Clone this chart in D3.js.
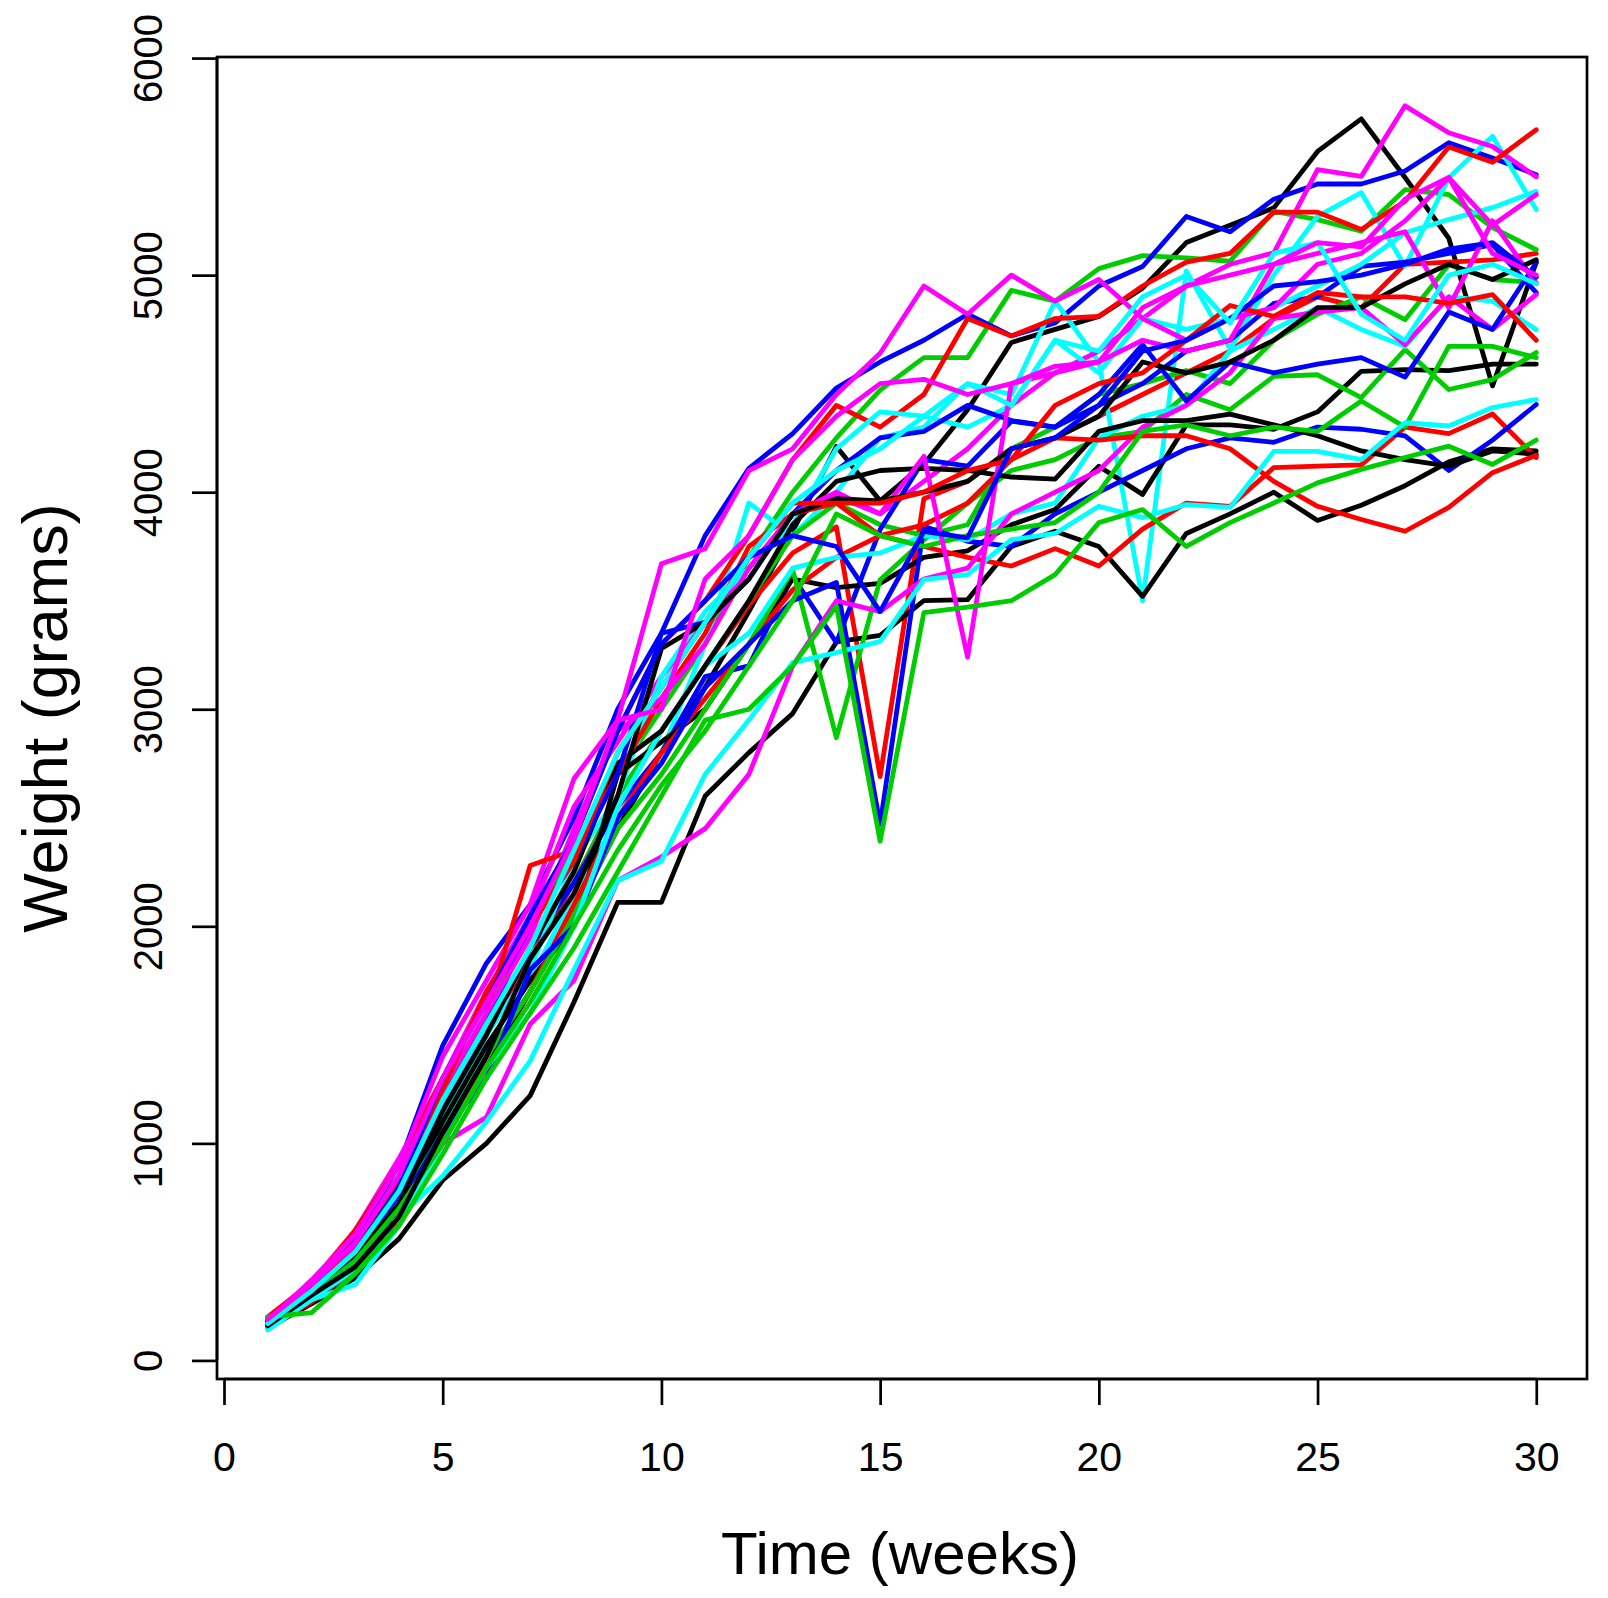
<!DOCTYPE html>
<html>
<head>
<meta charset="utf-8">
<script src="https://cdn.jsdelivr.net/npm/d3@7"></script>
<style>
  body { margin: 0; background: #fff; }
  svg { display: block; font-family: "Liberation Sans", Arial, sans-serif; }
</style>
</head>
<body>
<svg id="chart" width="1608" height="1598"></svg>
<script>
// weeks 1..30
const weeks = d3.range(1, 31)

// weight series (grams), plotted in matplot order: black, red, green, blue, cyan, magenta
const K1 = [160,280,420,640,1000,1350,1700,2050,2450,2800,3100,3450,3820,4210,3960,4130,4380,4690,4750,4810,4940,5150,5230,5310,5570,5720,5450,5170,4490,5060]
const R1 = [170,300,470,700,1100,1500,1850,2200,2600,2900,3200,3480,3720,3840,2690,3970,4050,4200,4250,4350,4450,4550,4650,4800,4900,4850,5050,5060,5070,5100]
const G1 = [200,350,560,850,1250,1600,2000,2350,2700,3000,3300,3700,4000,4250,4470,4620,4620,4930,4880,5030,5090,5080,5064,5294,5256,5202,5394,5371,5219,5117]
const B1 = [190,360,560,900,1450,1830,2100,2500,3000,3350,3800,4110,4270,4480,4600,4700,4820,4720,4780,4950,5040,5270,5200,5350,5420,5420,5480,5610,5540,5463]
const C1 = [150,280,400,640,1050,1450,1750,2150,2500,2800,3300,3950,3800,4000,4250,4300,4500,4450,4880,4600,3500,5020,4660,5000,5271,5380,5041,5449,5640,5302]
const M1 = [170,340,600,930,1300,1700,2050,2550,2850,3150,3400,3650,3900,3980,3900,4050,4200,4400,4550,4650,4800,4950,5050,5103,5486,5455,5780,5656,5593,5453]

const K2 = [150,260,380,560,830,1000,1220,1650,2110,2110,2600,2800,2980,3310,3340,3500,3505,3750,3820,3750,3520,3810,3900,4000,3870,3940,4030,4140,4200,4190]
const R2 = [200,360,600,900,1300,1650,2000,2400,2900,3300,3500,3800,4150,4400,4300,4450,4800,4720,4800,4810,4950,5060,5100,5290,5290,5210,5340,5590,5520,5670]
const G2 = [190,330,520,780,1150,1500,1900,2200,2600,2900,3200,3500,3800,3950,3850,3800,3850,4200,4300,4450,4500,4560,4500,4700,4820,4900,4795,5048,4980,4966]
const B2 = [170,310,480,760,1150,1500,1900,2200,2550,2800,3150,3200,3613,3307,3828,4150,4120,4327,4300,4400,4500,4650,4700,4870,4900,5040,5060,5100,5140,4919]
const C2 = [160,300,460,720,1100,1500,1800,2300,2600,3150,3450,3650,3850,4200,4370,4350,4300,4400,4700,4550,4800,4750,4800,4850,4950,5050,5195,5256,5311,5386]
const M2 = [180,370,580,900,1400,1750,2100,2680,2950,3670,3740,4100,4200,4450,4640,4950,4820,5000,4880,4980,4800,4700,4800,4850,5050,5100,5250,5449,5230,5371]

const K3 = [170,300,450,700,1100,1450,1750,2000,2700,2850,3000,3300,3600,3560,3580,3700,3730,3850,3920,4120,3990,4310,4310,4290,4370,4557,4565,4560,4590,4590]
const R3 = [150,270,420,650,1000,1400,1700,2100,2500,2800,3050,3300,3550,3700,3800,3750,3700,3660,3740,3660,3830,3950,3935,4113,4120,4126,4300,4270,4360,4160]
const G3 = [180,300,480,720,1050,1400,1700,2050,2450,2700,3000,3300,3643,2869,3597,3780,3950,4100,4150,4250,4280,4450,4380,4534,4541,4436,4657,4473,4519,4643]
const B3 = [160,290,450,700,1050,1300,1800,2000,2500,2750,3100,3300,3500,3584,2469,3843,3774,3750,3900,4000,4100,4200,4250,4230,4300,4290,4260,4100,4240,4404]
const C3 = [140,280,350,620,1000,1350,1600,2000,2550,2900,3200,3350,3650,3700,3720,3800,3780,3900,3950,4250,4350,4400,4650,4750,4850,4750,4672,4900,4880,4749]
const M3 = [170,320,480,700,1000,1120,1550,1750,2210,2320,2450,2700,3200,3500,3450,3600,3650,3900,4000,4100,4300,4400,4550,4800,4830,4850,4680,4900,4750,4910]

const K4 = [180,320,480,720,1150,1500,1900,2250,2750,2900,3200,3500,3850,4050,4100,4110,4100,4070,4060,4280,4330,4330,4360,4310,4260,4190,4150,4120,4190,4175]
const R4 = [180,330,520,800,1200,1600,2280,2350,2700,3050,3350,3750,3900,3950,3800,3850,3950,4150,4250,4240,4260,4260,4200,4050,3935,3874,3820,3930,4090,4170]
const G4 = [170,300,460,700,1000,1350,1650,2000,2350,2650,2900,3200,3500,3900,3800,3750,3800,3830,3860,4000,4280,4310,4260,4300,4280,4420,4300,4672,4672,4620]
const B4 = [180,330,520,820,1200,1550,2000,2300,2700,3350,3400,3600,3900,4100,4250,4280,4400,4330,4300,4450,4680,4420,4600,4550,4590,4620,4530,4830,4750,5057]
const C4 = [150,280,420,660,850,1100,1380,1800,2210,2300,2700,2950,3215,3261,3313,3597,3620,3781,3810,3935,3883,3943,3930,4188,4188,4150,4320,4305,4390,4427]
const M4 = [160,330,520,820,1250,1600,1950,2450,2900,3050,3300,3650,3900,4000,3900,4165,3240,4500,4550,4600,4700,4650,4700,5050,5100,5150,5200,4850,5250,4960]

const K5 = [160,300,430,660,1050,1400,1850,2150,2600,3280,3400,3600,3900,3970,3960,4000,4050,4200,4250,4350,4600,4550,4600,4700,4850,4850,4960,5050,4980,5071]
const R5 = [190,340,540,820,1250,1700,2000,2300,2800,3100,3400,3700,3950,3950,3950,4000,4100,4150,4400,4500,4550,4700,4860,4810,4920,4900,4900,4870,4910,4700]
const G5 = [200,220,400,620,950,1300,1600,1900,2250,2600,2950,3000,3200,3475,2392,3445,3470,3500,3620,3860,3920,3750,3860,3950,4043,4105,4160,4212,4128,4240]
const B5 = [170,320,500,800,1300,1650,2050,2400,2900,3300,3500,3700,3800,3750,3450,3820,3790,4200,4250,4400,4650,4700,4800,4950,4970,5000,5050,5120,5150,4990]
const C5 = [170,320,500,780,1200,1550,1900,2350,2800,3100,3400,3700,3950,4100,4200,4350,4500,4400,4700,4650,4900,5000,4780,5100,5150,4820,4700,5000,5050,4960]
const M5 = [190,350,540,850,1300,1650,2000,2400,2950,3000,3600,3800,4150,4350,4500,4520,4450,4500,4580,4600,4850,4950,5000,5050,5150,5130,5350,5450,5100,5000]

const series = [K1,R1,G1,B1,C1,M1, K2,R2,G2,B2,C2,M2, K3,R3,G3,B3,C3,M3,
                K4,R4,G4,B4,C4,M4, K5,R5,G5,B5,C5,M5]
const palette = ['#000000','#FF0000','#00CD00','#0000FF','#00FFFF','#FF00FF']

const xTicks = [0, 5, 10, 15, 20, 25, 30]
const yTicks = [0, 1000, 2000, 3000, 4000, 5000, 6000]

const svg = d3.select('#chart')
const plot = {left: 217, right: 1587, top: 57, bottom: 1379}

// R-style 4% extension of the data range
const x = d3.scaleLinear().domain([-0.16, 31.16]).range([plot.left, plot.right])
const y = d3.scaleLinear().domain([-85.6, 6005]).range([plot.bottom, plot.top])

const line = d3.line()
    .x((d, i) => x(weeks[i]))
    .y(d => y(d))

const g = svg.append('g')
g.selectAll('.series')
    .data(series)
    .enter().append('path')
    .attr('class', 'series')
    .attr('d', line)
    .attr('fill', 'none')
    .attr('stroke', (d, i) => palette[i % 6])
    .attr('stroke-width', 4.8)
    .attr('stroke-linejoin', 'round')
    .attr('stroke-linecap', 'round')

// box
svg.append('rect')
    .attr('x', plot.left).attr('y', plot.top)
    .attr('width', plot.right - plot.left).attr('height', plot.bottom - plot.top)
    .attr('fill', 'none').attr('stroke', '#000').attr('stroke-width', 2.7)

// x axis
const xAxis = svg.append('g')
    .attr('transform', `translate(0, ${plot.bottom})`)
    .call(d3.axisBottom(x).tickValues(xTicks).tickSize(26).tickFormat(d3.format('d')))
xAxis.select('.domain')
    .attr('d', `M${x(0)},0H${x(30)}`)
    .attr('stroke-width', 2.7)
xAxis.selectAll('.tick line').attr('stroke-width', 2.7)
xAxis.selectAll('.tick text')
    .attr('font-size', 41).attr('font-family', '"Liberation Sans", Arial, sans-serif')
    .attr('fill', '#000').attr('dy', null).attr('y', 92)

// y axis
const yAxis = svg.append('g')
    .attr('transform', `translate(${plot.left}, 0)`)
    .call(d3.axisLeft(y).tickValues(yTicks).tickSize(25).tickFormat(d3.format('d')))
yAxis.select('.domain')
    .attr('d', `M0,${y(0)}V${y(6000)}`)
    .attr('stroke-width', 2.7)
yAxis.selectAll('.tick line').attr('stroke-width', 2.7)
yAxis.selectAll('.tick text')
    .attr('font-size', 40).attr('font-family', '"Liberation Sans", Arial, sans-serif')
    .attr('fill', '#000')
    .attr('x', null).attr('dy', null)
    .attr('text-anchor', 'middle')
    .attr('transform', 'translate(-55, 0) rotate(-90)')

// axis titles
svg.append('text')
    .attr('x', 900).attr('y', 1574)
    .attr('text-anchor', 'middle')
    .attr('font-size', 60)
    .text('Time (weeks)')

svg.append('text')
    .attr('transform', `translate(67, ${(plot.top + plot.bottom) / 2}) rotate(-90)`)
    .attr('text-anchor', 'middle')
    .attr('font-size', 63)
    .text('Weight (grams)')
</script>
</body>
</html>
